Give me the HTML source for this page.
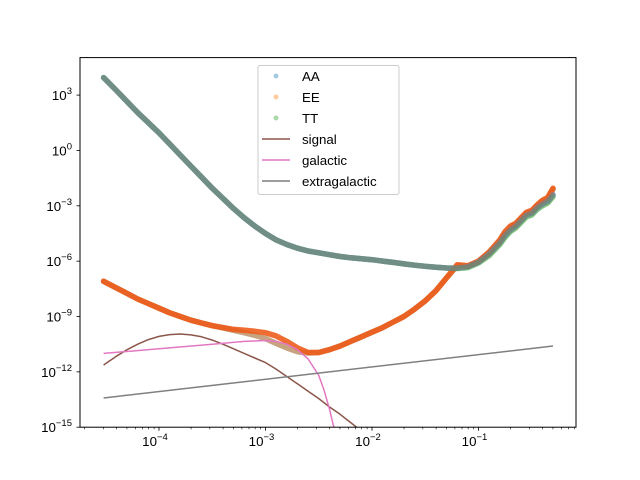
<!DOCTYPE html>
<html><head><meta charset="utf-8"><style>
body{margin:0;background:#fff;}
svg{display:block;font-family:"Liberation Sans","DejaVu Sans",sans-serif;}
</style></head><body>
<svg id="chart" width="640" height="480" xmlns="http://www.w3.org/2000/svg">
<defs><clipPath id="clip"><rect x="80" y="57.6" width="496" height="369.6"/></clipPath></defs>
<rect x="0" y="0" width="640" height="480" fill="#fff"/>
<g id="series" clip-path="url(#clip)"></g>
<rect x="80" y="57.6" width="496" height="369.6" fill="none" stroke="#000" stroke-width="1"/>
<g id="axes"></g>
<g id="legend"></g>
</svg>
<script>
// log10 values
const xGrid = [-4.52,-4.4,-4.3,-4.2,-4.1,-4.0,-3.9,-3.8,-3.7,-3.6,-3.5,-3.4,-3.3,-3.2,-3.1,-3.0,-2.9,-2.8,-2.7,-2.6,-2.5,-2.4,-2.3,-2.2,-2.1,-2.0,-1.9,-1.8,-1.7,-1.6,-1.5,-1.4,-1.3,-1.2,-1.1,-1.0,-0.9,-0.8,-0.75,-0.7,-0.65,-0.6,-0.55,-0.5,-0.45,-0.4,-0.35,-0.3];
const upperAA = [3.95,3.25,2.65,2.05,1.5,0.95,0.35,-0.25,-0.85,-1.45,-2.05,-2.6,-3.15,-3.65,-4.1,-4.5,-4.85,-5.1,-5.3,-5.45,-5.55,-5.65,-5.75,-5.82,-5.87,-5.92,-6.0,-6.07,-6.15,-6.22,-6.28,-6.33,-6.37,-6.38,-6.3,-6.05,-5.6,-5.0,-4.6,-4.3,-4.1,-3.8,-3.5,-3.4,-3.1,-2.9,-2.75,-2.4];
const upperTT = [3.95,3.25,2.65,2.05,1.5,0.95,0.35,-0.25,-0.85,-1.45,-2.05,-2.6,-3.15,-3.65,-4.1,-4.5,-4.85,-5.1,-5.3,-5.45,-5.55,-5.65,-5.75,-5.82,-5.87,-5.92,-6.0,-6.07,-6.15,-6.22,-6.28,-6.33,-6.37,-6.4,-6.35,-6.1,-5.7,-5.1,-4.7,-4.4,-4.2,-3.9,-3.6,-3.5,-3.2,-3.0,-2.85,-2.5];
const lowerEE = [-7.09,-7.45,-7.75,-8.05,-8.3,-8.55,-8.8,-9.0,-9.2,-9.35,-9.5,-9.6,-9.7,-9.75,-9.8,-9.88,-10.05,-10.35,-10.7,-10.95,-10.95,-10.8,-10.6,-10.35,-10.1,-9.85,-9.6,-9.3,-9.0,-8.6,-8.15,-7.6,-6.9,-6.2,-6.25,-6.0,-5.5,-4.85,-4.4,-4.1,-3.95,-3.65,-3.35,-3.25,-2.95,-2.7,-2.55,-2.05];
const lowerAA = [-7.09,-7.45,-7.75,-8.05,-8.3,-8.55,-8.8,-9.0,-9.2,-9.35,-9.5,-9.62,-9.75,-9.88,-10.02,-10.2,-10.45,-10.7,-10.9,-10.98,-10.95,-10.8,-10.6,-10.35,-10.1,-9.85,-9.6,-9.3,-9.0,-8.6,-8.15,-7.6,-6.9,-6.25,-6.28,-6.02,-5.55,-4.9,-4.45,-4.15,-4.0,-3.7,-3.4,-3.3,-3.0,-2.75,-2.6,-2.1];
const signalX = [-4.52,-4.4,-4.3,-4.2,-4.1,-4.0,-3.9,-3.8,-3.7,-3.6,-3.5,-3.4,-3.3,-3.2,-3.1,-3.0,-2.9,-2.8,-2.7,-2.6,-2.5,-2.4,-2.3,-2.2,-2.1];
const signalY = [-11.63,-11.15,-10.8,-10.5,-10.25,-10.08,-9.98,-9.95,-10.0,-10.1,-10.28,-10.5,-10.75,-11.0,-11.25,-11.5,-11.85,-12.25,-12.65,-13.05,-13.45,-13.9,-14.3,-14.75,-15.2];
const galX = [-4.52,-4.0,-3.5,-3.2,-3.0,-2.9,-2.8,-2.7,-2.6,-2.5,-2.45,-2.4,-2.35];
const galY = [-11.0,-10.75,-10.5,-10.35,-10.3,-10.35,-10.5,-10.8,-11.3,-12.2,-13.0,-14.0,-15.2];
const extraX = [-4.52,-0.3];
const extraY = [-13.42,-10.6];
const xTicks = [-4,-3,-2,-1];
const yTicks = [-15,-12,-9,-6,-3,0,3];

const NS="http://www.w3.org/2000/svg";
function X(lx){return 159+(lx+4)*106.5;}
function Y(ly){return 427.2-(ly+15)*18.45;}
function mk(tag,attrs,parent){const e=document.createElementNS(NS,tag);for(const k in attrs)e.setAttribute(k,attrs[k]);parent.appendChild(e);return e;}
const S=document.getElementById('series'),A=document.getElementById('axes'),L=document.getElementById('legend');

function ptsStr(xs,ys){return xs.map((x,i)=>X(x).toFixed(1)+','+Y(ys[i]).toFixed(1)).join(' ');}
function scatter(xs,ys,color,name,op){
  const g=mk('g',{},S);
  
  
  const pl=mk('polyline',{points:ptsStr(xs,ys),fill:'none',stroke:color,'stroke-width':5.5,'stroke-opacity':op,'stroke-linejoin':'round','stroke-linecap':'round'},g);
  
  
}
scatter(xGrid,upperAA,'#1f77b4','aa-upper-series',0.45);
scatter(xGrid,lowerAA,'#1f77b4','aa-lower-series',0.45);
scatter(xGrid,lowerAA,'#ff7f0e','ee-lower-branch',0.45);
scatter(xGrid,lowerEE,'#ff7f0e','ee-series',0.6);
scatter(xGrid,lowerEE,'#e8501a','ee-overlap',0.7);
scatter(xGrid,upperTT,'#2ca02c','tt-series',0.6);
scatter(xGrid,upperAA,'#7a7f8f','aa-series',0.7);
function line(xs,ys,color,name){
  const pl=mk('polyline',{points:ptsStr(xs,ys),fill:'none',stroke:color,'stroke-width':1.5,'stroke-linejoin':'round'},S);
  
  
}
line(signalX,signalY,'#8c564b','signal-line');
line(galX,galY,'#e377c2','galactic-line');
line(extraX,extraY,'#7f7f7f','extragalactic-line');

// x ticks
xTicks.forEach(t=>{
  const l=mk('line',{x1:X(t),x2:X(t),y1:427.2,y2:430.7,stroke:'#000','stroke-width':0.8},A);
  
  
  const tx=mk('text',{x:X(t)-4,y:446,'font-size':13.3,'text-anchor':'middle',fill:'#000'},A);
  
  
  tx.innerHTML='10<tspan dy="-6" font-size="9.5">\u2212'+Math.abs(t)+'</tspan>';
});
for(let d=-5;d<=0;d++){for(let m=2;m<=9;m++){const lx=d+Math.log10(m);const px=X(lx);if(px<80||px>576)continue;
  const l=mk('line',{x1:px,x2:px,y1:427.2,y2:429.2,stroke:'#000','stroke-width':0.6},A);
  
  }}
// y ticks
yTicks.forEach(t=>{
  const l=mk('line',{x1:76.5,x2:80,y1:Y(t),y2:Y(t),stroke:'#000','stroke-width':0.8},A);
  
  
  const tx=mk('text',{x:72,y:Y(t)+5,'font-size':13.3,'text-anchor':'end',fill:'#000'},A);
  
  
  tx.innerHTML='10<tspan dy="-6" font-size="9.5">'+(t<0?'\u2212'+Math.abs(t):t)+'</tspan>';
});
// legend
const box=mk('rect',{x:258,y:65.5,width:141,height:129,rx:2,fill:'#fff','fill-opacity':0.8,stroke:'#ccc'},L);


const entries=[['AA','#1f77b4','m'],['EE','#ff7f0e','m'],['TT','#2ca02c','m'],['signal','#8c564b','l'],['galactic','#e377c2','l'],['extragalactic','#7f7f7f','l']];
entries.forEach((e,i)=>{
  const y=76+i*21;
  const g=mk('g',{},L);
  
  
  if(e[2]==='m'){mk('circle',{cx:276,cy:y,r:2.5,fill:e[1],'fill-opacity':0.4},g);}
  else{mk('line',{x1:262,x2:290,y1:y,y2:y,stroke:e[1],'stroke-width':1.5},g);}
  const t=mk('text',{x:302,y:y+5,'font-size':13.3,fill:'#000'},g);
  t.textContent=e[0];
});
</script>
</body></html>
